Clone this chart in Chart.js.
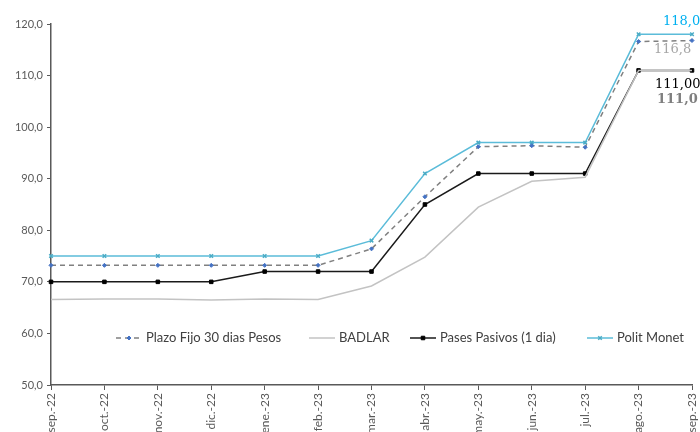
<!DOCTYPE html>
<html>
<head>
<meta charset="utf-8">
<script src="https://cdn.jsdelivr.net/npm/chart.js@4.4.0/dist/chart.umd.min.js"></script>
<style>
  body { margin: 0; background: #fff; }
  #tasas { display: block; }
</style>
</head>
<body>
<canvas id="tasas" width="700" height="432"></canvas>
<script>
const meses = ['sep.-22','oct.-22','nov.-22','dic.-22','ene.-23','feb.-23','mar.-23','abr.-23','may.-23','jun.-23','jul.-23','ago.-23','sep.-23'];
const plazoFijo = [73.2, 73.2, 73.2, 73.2, 73.2, 73.2, 76.4, 86.5, 96.2, 96.4, 96.1, 116.6, 116.8];
const badlar = [66.6, 66.7, 66.7, 66.5, 66.7, 66.6, 69.2, 74.8, 84.5, 89.5, 90.3, 111.0, 111.0];
const pasesPasivos = [70, 70, 70, 70, 72, 72, 72, 85, 91, 91, 91, 111, 111];
const politMonet = [75, 75, 75, 75, 75, 75, 78, 91, 97, 97, 97, 118, 118];
const yTicks = [50, 60, 70, 80, 90, 100, 110, 120];

const fmt = (v, d) => v.toFixed(d).replace('.', ',');

// legend drawn inside the plot area, like the excel one
const legendInside = {
  id: 'legendInside',
  afterDraw(chart) {
    const {ctx, chartArea} = chart;
    const y = chartArea.bottom - 47;
    const starts = [116, 309, 410, 587];
    ctx.save();
    ctx.font = '13px Lato';
    ctx.textBaseline = 'middle';
    chart.data.datasets.forEach((ds, i) => {
      const x = starts[i];
      ctx.strokeStyle = ds.borderColor;
      ctx.lineWidth = ds.borderWidth;
      ctx.setLineDash(ds.borderDash || []);
      ctx.beginPath();
      ctx.moveTo(x, y);
      ctx.lineTo(x + 26, y);
      ctx.stroke();
      ctx.setLineDash([]);
      if (ds.pointRadius > 0) {
        ctx.fillStyle = ds.pointBackgroundColor;
        ctx.strokeStyle = ds.pointBorderColor;
        ctx.lineWidth = ds.pointBorderWidth || 1;
        Chart.helpers.drawPoint(ctx, {
          pointStyle: ds.pointStyle, radius: ds.pointRadius, rotation: 0,
          borderWidth: ds.pointBorderWidth || 1
        }, x + 13, y);
      }
      ctx.fillStyle = '#404040';
      ctx.fillText(ds.label, x + 30, y);
    });
    ctx.restore();
  }
};

// value labels at the last month
const endLabels = {
  id: 'endLabels',
  afterDatasetsDraw(chart) {
    const {ctx} = chart;
    const conf = [
      {dec: 1, color: '#A6A6A6', dx: -38, dy: 9, bold: false},
      {dec: 1, color: '#7F7F7F', dx: -35, dy: 29, bold: true},
      {dec: 2, color: '#000000', dx: -37, dy: 14, bold: false},
      {dec: 1, color: '#00B0F0', dx: -29, dy: -13, bold: false}
    ];
    ctx.save();
    ctx.textBaseline = 'middle';
    ctx.textAlign = 'left';
    chart.data.datasets.forEach((ds, i) => {
      const meta = chart.getDatasetMeta(i);
      const last = meta.data[meta.data.length - 1];
      const c = conf[i];
      ctx.font = (c.bold ? 'bold ' : '') + '13px "DejaVu Serif"';
      ctx.fillStyle = c.color;
      ctx.fillText(fmt(ds.data[ds.data.length - 1], c.dec), last.x + c.dx, last.y + c.dy);
    });
    ctx.restore();
  }
};

new Chart(document.getElementById('tasas'), {
  type: 'line',
  data: {
    labels: meses,
    datasets: [
      {
        label: 'Plazo Fijo 30 dias Pesos',
        data: plazoFijo,
        borderColor: '#808080',
        borderWidth: 1.5,
        borderDash: [5, 4],
        pointStyle: 'rectRot',
        pointRadius: 2,
        pointBorderWidth: 1,
        pointBackgroundColor: '#4472C4',
        pointBorderColor: '#4472C4'
      },
      {
        label: 'BADLAR',
        data: badlar,
        borderColor: '#C3C3C3',
        borderWidth: 1.5,
        pointRadius: 0
      },
      {
        label: 'Pases Pasivos (1 dia)',
        data: pasesPasivos,
        borderColor: '#1A1A1A',
        borderWidth: 1.5,
        pointStyle: 'rect',
        pointRadius: 2.5,
        pointBorderWidth: 1,
        pointBackgroundColor: '#000000',
        pointBorderColor: '#000000'
      },
      {
        label: 'Polit Monet',
        data: politMonet,
        borderColor: '#5BBCD9',
        borderWidth: 1.5,
        pointStyle: 'crossRot',
        pointRadius: 2.5,
        pointBackgroundColor: '#4BACC6',
        pointBorderColor: '#4BACC6',
        pointBorderWidth: 1.5
      }
    ]
  },
  options: {
    responsive: false,
    animation: false,
    devicePixelRatio: 1,
    layout: { padding: { top: 24, right: 8, left: 0, bottom: 0 } },
    plugins: {
      legend: { display: false },
      tooltip: { enabled: false }
    },
    elements: { line: { tension: 0 } },
    scales: {
      x: {
        offset: false,
        border: { color: '#595959', width: 1.5 },
        grid: { drawOnChartArea: false, drawTicks: true, tickLength: 5, color: '#595959', lineWidth: 1 },
        ticks: { minRotation: 90, maxRotation: 90, autoSkip: false, padding: 3, color: '#595959', font: { family: 'Lato', size: 12 } },
        afterFit(scale) {
          scale.height = 47;
          scale.paddingLeft = 0;
          scale.paddingRight = 0;
        }
      },
      y: {
        min: 50,
        max: 120,
        afterBuildTicks(scale) { scale.ticks = yTicks.map(v => ({ value: v })); },
        border: { color: '#595959', width: 1.5 },
        grid: { drawOnChartArea: false, drawTicks: true, tickLength: 4, color: '#595959', lineWidth: 1 },
        ticks: { padding: 4, color: '#595959', font: { family: 'Lato', size: 11 }, callback: v => fmt(v, 1) },
        afterFit(scale) { scale.width = 51; }
      }
    }
  },
  plugins: [legendInside, endLabels]
});
</script>
</body>
</html>
